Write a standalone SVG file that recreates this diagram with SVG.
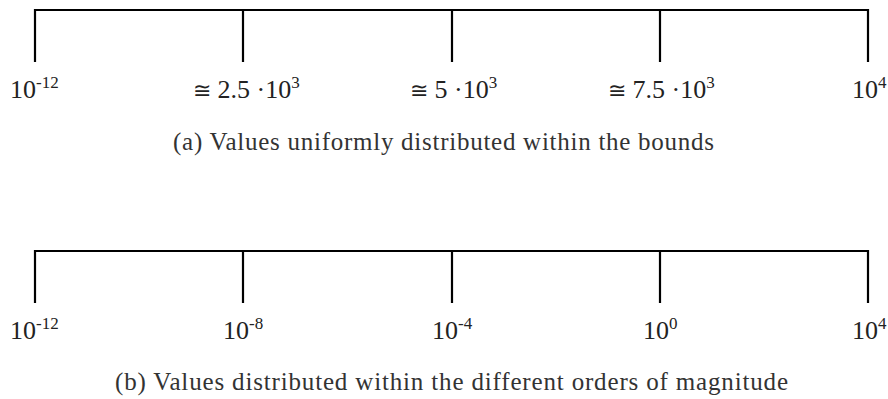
<svg xmlns="http://www.w3.org/2000/svg" width="888" height="399" viewBox="0 0 888 399">
<style>
.ax{stroke:#000;stroke-width:2.2;fill:none;stroke-linecap:square}
.lb{font-family:"Liberation Serif",serif;font-size:26px;fill:#222}
.sp{font-size:17px}
.cap{font-family:"Liberation Serif",serif;font-size:25px;fill:#333}
</style>
<rect width="888" height="399" fill="#fff"/>
<g id="connectors">
<path class="ax" d="M35,61 V10 H868 V61 M243,10 V61 M452,10 V61 M660,10 V61"/>
<path class="ax" d="M35,302 V251 H868 V302 M243,251 V302 M452,251 V302 M660,251 V302"/>
</g>
<g id="scale-a">
<text class="lb" x="10" y="98">10<tspan class="sp" dy="-10">-12</tspan></text>
<text class="lb" x="193" y="98"><tspan font-family="DejaVu Serif" font-size="22">≅</tspan> 2.5 ·10<tspan class="sp" dy="-10">3</tspan></text>
<text class="lb" x="410" y="98"><tspan font-family="DejaVu Serif" font-size="22">≅</tspan> 5 ·10<tspan class="sp" dy="-10">3</tspan></text>
<text class="lb" x="608" y="98"><tspan font-family="DejaVu Serif" font-size="22">≅</tspan> 7.5 ·10<tspan class="sp" dy="-10">3</tspan></text>
<text class="lb" x="852" y="98">10<tspan class="sp" dy="-10">4</tspan></text>
<text class="cap" x="173" y="150" textLength="541" lengthAdjust="spacing">(a)  Values uniformly distributed within the bounds</text>
</g>
<g id="scale-b">
<text class="lb" x="10" y="339">10<tspan class="sp" dy="-10">-12</tspan></text>
<text class="lb" x="223" y="339">10<tspan class="sp" dy="-10">-8</tspan></text>
<text class="lb" x="432" y="339">10<tspan class="sp" dy="-10">-4</tspan></text>
<text class="lb" x="643" y="339">10<tspan class="sp" dy="-10">0</tspan></text>
<text class="lb" x="852" y="339">10<tspan class="sp" dy="-10">4</tspan></text>
<text class="cap" x="115" y="390" textLength="673" lengthAdjust="spacing">(b)  Values distributed within the different orders of magnitude</text>
</g>
</svg>
